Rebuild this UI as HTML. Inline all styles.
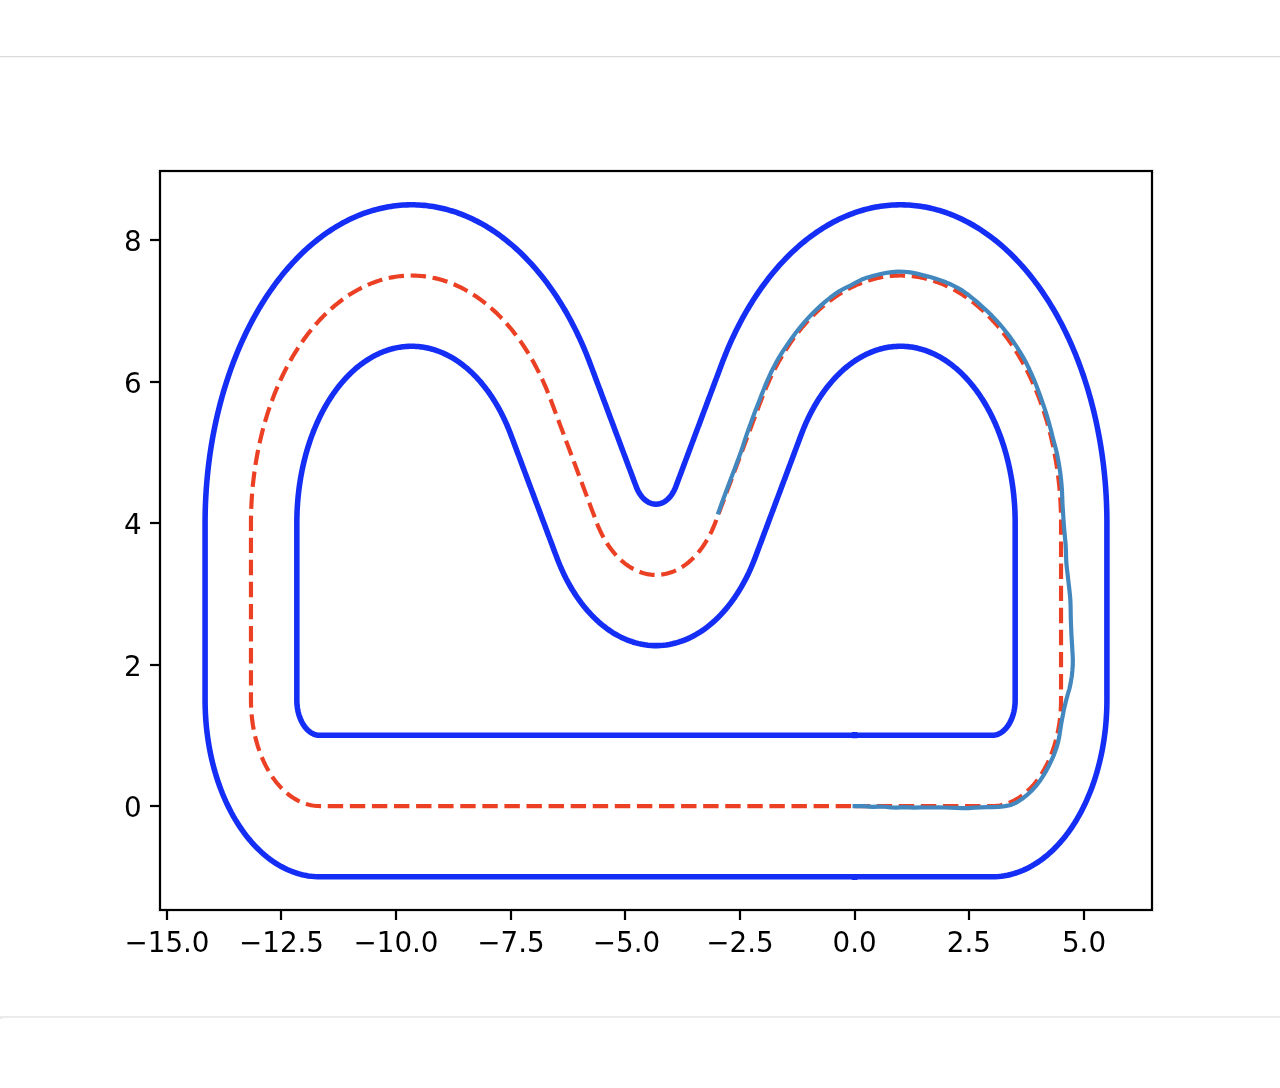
<!DOCTYPE html>
<html lang="en"><head><meta charset="utf-8"><title>Track plot</title>
<style>
html,body{margin:0;padding:0;background:#fff;}
body{width:1280px;height:1088px;position:relative;overflow:hidden;font-family:"DejaVu Sans","Liberation Sans",sans-serif;}
.topline{position:absolute;left:0;top:56px;width:1280px;height:1px;background:#dadada;}
.topline2{position:absolute;left:0;top:57px;width:1280px;height:1px;background:#f6f6f6;}
.botline{position:absolute;left:0;top:1016px;width:1280px;height:2px;background:#ebebeb;}
.botblob{position:absolute;left:0;top:1018px;width:3px;height:1px;background:#ebebeb;}
svg.fig{position:absolute;left:0;top:56px;width:1280px;height:960px;overflow:visible;}
</style></head><body>
<div class="topline"></div><div class="topline2"></div>
<svg class="fig" width="1280" height="960" viewBox="0 0 1280 960">
<g stroke="#000" stroke-width="2.222" fill="none" stroke-linecap="butt">
<path d="M167 854V864"/>
<path d="M281 854V864"/>
<path d="M396 854V864"/>
<path d="M511 854V864"/>
<path d="M625 854V864"/>
<path d="M740 854V864"/>
<path d="M855 854V864"/>
<path d="M969 854V864"/>
<path d="M1084 854V864"/>
<path d="M160 750H150"/>
<path d="M160 609H150"/>
<path d="M160 467H150"/>
<path d="M160 326H150"/>
<path d="M160 184H150"/>
</g>
<g font-family="'DejaVu Sans', 'Liberation Sans', sans-serif" font-size="27.78" fill="#000">
<text x="167" y="895.5" text-anchor="middle">−15.0</text>
<text x="281.5" y="895.5" text-anchor="middle">−12.5</text>
<text x="396" y="895.5" text-anchor="middle">−10.0</text>
<text x="511" y="895.5" text-anchor="middle">−7.5</text>
<text x="626.5" y="895.5" text-anchor="middle">−5.0</text>
<text x="740" y="895.5" text-anchor="middle">−2.5</text>
<text x="854.6" y="895.5" text-anchor="middle">0.0</text>
<text x="968.9" y="895.5" text-anchor="middle">2.5</text>
<text x="1084" y="895.5" text-anchor="middle">5.0</text>
<text x="141.75" y="760.5" text-anchor="end">0</text>
<text x="141.75" y="619.5" text-anchor="end">2</text>
<text x="141.75" y="477.5" text-anchor="end">4</text>
<text x="141.75" y="336.5" text-anchor="end">6</text>
<text x="141.75" y="194.5" text-anchor="end">8</text>
</g>
<svg x="160" y="115" width="992" height="739" viewBox="160 115 992 739" overflow="hidden">
<path d="M854.62 750.06L856.46 750.06L858.31 750.06L860.15 750.06L861.99 750.06L863.83 750.06L865.67 750.06L867.51 750.06L869.35 750.06L871.19 750.06L873.03 750.06L874.87 750.06L876.71 750.06L878.56 750.06L880.40 750.06L882.24 750.06L884.08 750.06L885.92 750.06L887.76 750.06L889.60 750.06L891.44 750.06L893.28 750.06L895.12 750.06L896.97 750.06L898.81 750.06L900.65 750.06L902.49 750.06L904.33 750.06L906.17 750.06L908.01 750.06L909.85 750.06L911.69 750.06L913.53 750.06L915.37 750.06L917.22 750.06L919.06 750.06L920.90 750.06L922.74 750.06L924.58 750.06L926.42 750.06L928.26 750.06L930.10 750.06L931.94 750.06L933.78 750.06L935.62 750.06L937.47 750.06L939.31 750.06L941.15 750.06L942.99 750.06L944.83 750.06L946.67 750.06L948.51 750.06L950.35 750.06L952.19 750.06L954.03 750.06L955.88 750.06L957.72 750.06L959.56 750.06L961.40 750.06L963.24 750.06L965.08 750.06L966.92 750.06L968.76 750.06L970.60 750.06L972.44 750.06L974.28 750.06L976.13 750.06L977.97 750.06L979.81 750.06L981.65 750.06L983.49 750.06L985.33 750.06L987.17 750.06L989.01 750.06L990.85 750.06L992.23 750.06L994.08 750.02L995.93 749.91L997.77 749.72L999.61 749.45L1001.44 749.11L1003.27 748.69L1005.09 748.19L1006.90 747.62L1008.70 746.98L1010.49 746.26L1012.26 745.47L1014.02 744.60L1015.77 743.66L1017.49 742.65L1019.20 741.57L1020.89 740.42L1022.56 739.20L1024.21 737.91L1025.83 736.55L1027.43 735.13L1029.01 733.64L1030.56 732.08L1032.08 730.46L1033.57 728.78L1035.03 727.04L1036.46 725.24L1037.86 723.38L1039.23 721.46L1040.56 719.49L1041.86 717.46L1043.12 715.38L1044.34 713.25L1045.53 711.06L1046.68 708.83L1047.79 706.56L1048.86 704.23L1049.89 701.87L1050.88 699.46L1051.82 697.01L1052.72 694.52L1053.58 692.00L1054.40 689.44L1055.17 686.85L1055.89 684.23L1056.57 681.58L1057.20 678.91L1057.78 676.20L1058.32 673.48L1058.81 670.73L1059.25 667.97L1059.65 665.18L1059.99 662.38L1060.29 659.57L1060.54 656.75L1060.74 653.91L1060.88 651.08L1060.98 648.23L1061.03 645.38L1061.04 643.25L1061.04 640.41L1061.04 637.57L1061.04 634.73L1061.04 631.88L1061.04 629.04L1061.04 626.20L1061.04 623.36L1061.04 620.52L1061.04 617.68L1061.04 614.84L1061.04 612.00L1061.04 609.16L1061.04 606.32L1061.04 603.48L1061.04 600.64L1061.04 597.79L1061.04 594.95L1061.04 592.11L1061.04 589.27L1061.04 586.43L1061.04 583.59L1061.04 580.75L1061.04 577.91L1061.04 575.07L1061.04 572.23L1061.04 569.39L1061.04 566.55L1061.04 563.70L1061.04 560.86L1061.04 558.02L1061.04 555.18L1061.04 552.34L1061.04 549.50L1061.04 546.66L1061.04 543.82L1061.04 540.98L1061.04 538.14L1061.04 535.30L1061.04 532.46L1061.04 529.61L1061.04 526.77L1061.04 523.93L1061.04 521.09L1061.04 518.25L1061.04 515.41L1061.04 512.57L1061.04 509.73L1061.04 506.89L1061.04 504.05L1061.04 501.21L1061.04 498.36L1061.04 495.52L1061.04 492.68L1061.04 489.84L1061.04 487.00L1061.04 484.16L1061.04 481.32L1061.04 478.48L1061.04 475.64L1061.04 472.80L1061.04 469.96L1061.04 467.12L1061.03 464.99L1061.01 462.16L1060.96 459.32L1060.89 456.49L1060.80 453.66L1060.69 450.83L1060.56 448.01L1060.41 445.19L1060.23 442.36L1060.04 439.55L1059.83 436.73L1059.59 433.92L1059.33 431.12L1059.06 428.32L1058.76 425.52L1058.44 422.73L1058.10 419.95L1057.74 417.17L1057.36 414.39L1056.96 411.63L1056.53 408.87L1056.09 406.12L1055.63 403.38L1055.14 400.65L1054.64 397.92L1054.12 395.21L1053.57 392.50L1053.01 389.80L1052.43 387.12L1051.82 384.44L1051.20 381.77L1050.56 379.12L1049.89 376.48L1049.21 373.85L1048.51 371.23L1047.79 368.62L1047.05 366.03L1046.29 363.45L1045.51 360.88L1044.71 358.33L1043.89 355.79L1043.06 353.27L1042.20 350.76L1041.33 348.27L1040.44 345.79L1039.53 343.33L1038.60 340.88L1037.66 338.45L1036.69 336.04L1035.71 333.64L1034.71 331.27L1033.69 328.91L1032.66 326.56L1031.61 324.24L1030.54 321.94L1029.45 319.65L1028.35 317.38L1027.23 315.14L1026.09 312.91L1024.94 310.70L1023.77 308.52L1022.59 306.35L1021.39 304.21L1020.17 302.09L1018.94 299.98L1017.69 297.91L1016.43 295.85L1015.15 293.81L1013.85 291.80L1012.55 289.81L1011.22 287.85L1009.88 285.90L1008.53 283.98L1007.17 282.09L1005.79 280.22L1004.39 278.37L1002.98 276.55L1001.56 274.76L1000.13 272.98L998.68 271.24L997.22 269.52L995.75 267.82L994.26 266.16L992.77 264.51L991.26 262.90L989.74 261.31L988.20 259.75L986.66 258.21L985.10 256.71L983.53 255.23L981.96 253.78L980.37 252.35L978.77 250.96L977.16 249.59L975.54 248.25L973.91 246.94L972.27 245.66L970.62 244.41L968.97 243.18L967.30 241.99L965.63 240.83L963.94 239.69L962.25 238.59L960.55 237.51L958.84 236.47L957.13 235.45L955.40 234.47L953.67 233.51L951.94 232.59L950.19 231.70L948.44 230.84L946.69 230.01L944.92 229.21L943.15 228.44L941.38 227.70L939.60 226.99L937.82 226.32L936.03 225.68L934.23 225.07L932.43 224.49L930.63 223.94L928.82 223.42L927.01 222.94L925.20 222.49L923.38 222.07L921.56 221.68L919.74 221.32L917.91 221.00L916.09 220.71L914.26 220.45L912.43 220.22L910.59 220.03L908.76 219.87L906.92 219.74L905.09 219.64L903.25 219.57L901.41 219.54L899.57 219.54L897.74 219.57L895.90 219.64L894.06 219.74L892.23 219.87L890.39 220.03L888.56 220.22L886.73 220.45L884.90 220.71L883.07 221.00L881.25 221.32L879.42 221.68L877.60 222.07L875.79 222.49L873.97 222.94L872.16 223.42L870.36 223.94L868.55 224.49L866.75 225.07L864.96 225.68L863.17 226.32L861.39 226.99L859.61 227.70L857.83 228.44L856.06 229.21L854.30 230.01L852.55 230.84L850.79 231.70L849.05 232.59L847.31 233.51L845.58 234.47L843.86 235.45L842.15 236.47L840.44 237.51L838.74 238.59L837.05 239.69L835.36 240.83L833.69 241.99L832.02 243.18L830.36 244.41L828.71 245.66L827.08 246.94L825.45 248.25L823.83 249.59L822.22 250.96L820.62 252.35L819.03 253.78L817.45 255.23L815.89 256.71L814.33 258.21L812.78 259.75L811.25 261.31L809.73 262.90L808.22 264.51L806.72 266.16L805.24 267.82L803.76 269.52L802.30 271.24L800.86 272.98L799.42 274.76L798.00 276.55L796.59 278.37L795.20 280.22L793.82 282.09L792.45 283.98L791.10 285.90L789.76 287.85L788.44 289.81L787.13 291.80L785.84 293.81L784.56 295.85L783.30 297.91L782.05 299.98L780.82 302.09L779.60 304.21L778.40 306.35L777.21 308.52L776.04 310.70L774.89 312.91L773.76 315.14L772.64 317.38L771.53 319.65L770.45 321.94L769.38 324.24L768.33 326.56L767.29 328.91L766.28 331.27L765.28 333.64L764.29 336.04L763.33 338.45L762.38 340.88L761.46 343.33L760.77 345.17L759.84 347.64L758.92 350.10L758.00 352.56L757.08 355.02L756.16 357.49L755.23 359.95L754.31 362.41L753.39 364.88L752.47 367.34L751.55 369.80L750.62 372.26L749.70 374.73L748.78 377.19L747.86 379.65L746.94 382.11L746.01 384.58L745.09 387.04L744.17 389.50L743.25 391.96L742.33 394.43L741.40 396.89L740.48 399.35L739.56 401.82L738.64 404.28L737.72 406.74L736.79 409.20L735.87 411.67L734.95 414.13L734.03 416.59L733.11 419.05L732.18 421.52L731.26 423.98L730.34 426.44L729.42 428.91L728.50 431.37L727.57 433.83L726.65 436.29L725.73 438.76L724.81 441.22L723.89 443.68L722.96 446.14L722.04 448.61L721.12 451.07L720.20 453.53L719.28 456.00L718.35 458.46L717.43 460.92L716.51 463.38L715.59 465.85L714.88 467.68L713.91 470.09L712.90 472.46L711.84 474.79L710.74 477.07L709.61 479.31L708.44 481.49L707.22 483.63L705.98 485.72L704.69 487.76L703.37 489.74L702.02 491.67L700.64 493.54L699.22 495.35L697.77 497.11L696.29 498.80L694.79 500.43L693.25 502.00L691.69 503.51L690.10 504.95L688.49 506.32L686.86 507.63L685.20 508.87L683.52 510.04L681.82 511.14L680.11 512.17L678.38 513.13L676.63 514.02L674.86 514.83L673.08 515.58L671.29 516.24L669.49 516.84L667.68 517.36L665.86 517.80L664.04 518.17L662.21 518.47L660.37 518.68L658.53 518.83L656.69 518.89L654.85 518.88L653.01 518.80L651.17 518.64L649.33 518.40L647.50 518.09L645.68 517.70L643.86 517.23L642.06 516.70L640.26 516.08L638.47 515.40L636.70 514.64L634.94 513.80L633.19 512.90L631.46 511.92L629.75 510.87L628.06 509.75L626.38 508.57L624.73 507.31L623.10 505.99L621.50 504.59L619.92 503.14L618.36 501.62L616.83 500.03L615.33 498.38L613.86 496.67L612.42 494.91L611.01 493.08L609.64 491.19L608.29 489.25L606.98 487.25L605.71 485.20L604.47 483.10L603.27 480.95L602.10 478.75L600.98 476.50L599.89 474.21L598.85 471.87L597.84 469.49L596.88 467.07L596.18 465.23L595.26 462.77L594.34 460.31L593.42 457.84L592.49 455.38L591.57 452.92L590.65 450.45L589.73 447.99L588.81 445.53L587.88 443.07L586.96 440.60L586.04 438.14L585.12 435.68L584.20 433.22L583.27 430.75L582.35 428.29L581.43 425.83L580.51 423.36L579.59 420.90L578.66 418.44L577.74 415.98L576.82 413.51L575.90 411.05L574.98 408.59L574.05 406.13L573.13 403.66L572.21 401.20L571.29 398.74L570.37 396.27L569.44 393.81L568.52 391.35L567.60 388.89L566.68 386.42L565.76 383.96L564.83 381.50L563.91 379.04L562.99 376.57L562.07 374.11L561.15 371.65L560.22 369.18L559.30 366.72L558.38 364.26L557.46 361.80L556.54 359.33L555.61 356.87L554.69 354.41L553.77 351.95L552.85 349.48L551.93 347.02L551.00 344.56L550.31 342.71L549.38 340.27L548.43 337.85L547.46 335.44L546.48 333.05L545.47 330.67L544.45 328.32L543.41 325.98L542.36 323.66L541.28 321.36L540.19 319.08L539.09 316.82L537.96 314.58L536.82 312.36L535.66 310.16L534.49 307.98L533.30 305.82L532.10 303.68L530.88 301.56L529.64 299.46L528.39 297.39L527.12 295.34L525.84 293.31L524.54 291.30L523.23 289.32L521.90 287.36L520.56 285.42L519.21 283.51L517.84 281.62L516.45 279.76L515.05 277.92L513.64 276.10L512.22 274.31L510.78 272.55L509.33 270.81L507.87 269.09L506.39 267.40L504.90 265.74L503.40 264.11L501.89 262.50L500.37 260.92L498.83 259.36L497.28 257.84L495.72 256.34L494.15 254.86L492.57 253.42L490.98 252.00L489.38 250.61L487.77 249.25L486.15 247.92L484.52 246.62L482.87 245.34L481.22 244.10L479.56 242.88L477.90 241.70L476.22 240.54L474.53 239.41L472.84 238.31L471.14 237.25L469.43 236.21L467.71 235.20L465.98 234.23L464.25 233.28L462.51 232.36L460.77 231.48L459.02 230.63L457.26 229.80L455.49 229.01L453.72 228.25L451.95 227.52L450.17 226.82L448.38 226.16L446.59 225.52L444.80 224.92L443.00 224.35L441.19 223.81L439.38 223.30L437.57 222.82L435.76 222.38L433.94 221.97L432.12 221.59L430.30 221.24L428.47 220.92L426.64 220.64L424.81 220.39L422.98 220.17L421.15 219.98L419.31 219.83L417.48 219.71L415.64 219.62L413.80 219.56L411.97 219.54L410.13 219.55L408.29 219.59L406.45 219.66L404.62 219.76L402.78 219.90L400.95 220.07L399.12 220.28L397.29 220.51L395.46 220.78L393.63 221.08L391.80 221.41L389.98 221.77L388.16 222.17L386.35 222.60L384.53 223.06L382.72 223.55L380.92 224.07L379.12 224.63L377.32 225.22L375.53 225.83L373.74 226.49L371.95 227.17L370.18 227.88L368.40 228.63L366.64 229.40L364.88 230.21L363.12 231.05L361.37 231.92L359.63 232.82L357.89 233.75L356.17 234.71L354.44 235.70L352.73 236.73L351.02 237.78L349.33 238.86L347.64 239.97L345.96 241.11L344.28 242.29L342.62 243.49L340.96 244.72L339.32 245.98L337.68 247.27L336.05 248.58L334.44 249.93L332.83 251.30L331.23 252.71L329.65 254.14L328.07 255.60L326.51 257.08L324.96 258.60L323.41 260.14L321.88 261.71L320.36 263.30L318.86 264.92L317.36 266.57L315.88 268.25L314.41 269.95L312.95 271.67L311.51 273.42L310.08 275.20L308.66 277.00L307.26 278.83L305.87 280.68L304.49 282.56L303.13 284.46L301.78 286.39L300.45 288.33L299.13 290.31L297.82 292.30L296.53 294.32L295.26 296.36L294.00 298.42L292.75 300.51L291.52 302.61L290.31 304.74L289.11 306.89L287.93 309.06L286.77 311.25L285.62 313.47L284.49 315.70L283.37 317.95L282.27 320.22L281.19 322.51L280.13 324.82L279.08 327.15L278.05 329.49L277.04 331.86L276.04 334.24L275.06 336.64L274.11 339.06L273.16 341.49L272.24 343.94L271.34 346.41L270.45 348.89L269.58 351.39L268.73 353.90L267.90 356.42L267.09 358.97L266.30 361.52L265.52 364.09L264.77 366.68L264.03 369.27L263.31 371.88L262.62 374.50L261.94 377.14L261.28 379.78L260.64 382.44L260.02 385.11L259.43 387.79L258.85 390.47L258.29 393.17L257.75 395.88L257.23 398.60L256.73 401.33L256.25 404.06L255.80 406.81L255.36 409.56L254.94 412.32L254.55 415.09L254.17 417.86L253.82 420.64L253.48 423.43L253.17 426.22L252.87 429.02L252.60 431.82L252.35 434.62L252.12 437.44L251.91 440.25L251.72 443.07L251.55 445.89L251.41 448.72L251.28 451.54L251.17 454.37L251.09 457.20L251.03 460.03L250.98 462.87L250.96 465.70L250.96 467.83L250.96 470.67L250.96 473.51L250.96 476.35L250.96 479.19L250.96 482.03L250.96 484.87L250.96 487.71L250.96 490.55L250.96 493.39L250.96 496.23L250.96 499.08L250.96 501.92L250.96 504.76L250.96 507.60L250.96 510.44L250.96 513.28L250.96 516.12L250.96 518.96L250.96 521.80L250.96 524.64L250.96 527.48L250.96 530.32L250.96 533.17L250.96 536.01L250.96 538.85L250.96 541.69L250.96 544.53L250.96 547.37L250.96 550.21L250.96 553.05L250.96 555.89L250.96 558.73L250.96 561.57L250.96 564.41L250.96 567.26L250.96 570.10L250.96 572.94L250.96 575.78L250.96 578.62L250.96 581.46L250.96 584.30L250.96 587.14L250.96 589.98L250.96 592.82L250.96 595.66L250.96 598.50L250.96 601.35L250.96 604.19L250.96 607.03L250.96 609.87L250.96 612.71L250.96 615.55L250.96 618.39L250.96 621.23L250.96 624.07L250.96 626.91L250.96 629.75L250.96 632.59L250.96 635.44L250.96 638.28L250.96 641.12L250.96 643.96L250.97 646.09L251.04 648.94L251.15 651.79L251.31 654.62L251.52 657.45L251.78 660.27L252.09 663.08L252.45 665.88L252.85 668.66L253.31 671.42L253.81 674.16L254.36 676.88L254.95 679.58L255.60 682.25L256.29 684.89L257.02 687.50L257.80 690.09L258.63 692.64L259.50 695.15L260.41 697.63L261.37 700.06L262.37 702.46L263.40 704.82L264.48 707.13L265.60 709.40L266.76 711.61L267.96 713.78L269.19 715.90L270.46 717.97L271.77 719.99L273.11 721.95L274.49 723.85L275.89 725.70L277.33 727.48L278.80 729.21L280.30 730.87L281.83 732.48L283.38 734.02L284.96 735.49L286.57 736.90L288.20 738.24L289.85 739.51L291.53 740.72L293.22 741.85L294.94 742.91L296.67 743.91L298.42 744.83L300.18 745.67L301.96 746.45L303.75 747.15L305.55 747.77L307.36 748.33L309.19 748.80L311.01 749.20L312.85 749.53L314.69 749.77L316.53 749.95L318.38 750.04L319.77 750.06L321.60 750.06L323.44 750.06L325.28 750.06L327.11 750.06L328.95 750.06L330.78 750.06L332.62 750.06L334.46 750.06L336.29 750.06L338.13 750.06L339.97 750.06L341.80 750.06L343.64 750.06L345.48 750.06L347.31 750.06L349.15 750.06L350.99 750.06L352.82 750.06L354.66 750.06L356.49 750.06L358.33 750.06L360.17 750.06L362.00 750.06L363.84 750.06L365.68 750.06L367.51 750.06L369.35 750.06L371.19 750.06L373.02 750.06L374.86 750.06L376.70 750.06L378.53 750.06L380.37 750.06L382.20 750.06L384.04 750.06L385.88 750.06L387.71 750.06L389.55 750.06L391.39 750.06L393.22 750.06L395.06 750.06L396.90 750.06L398.73 750.06L400.57 750.06L402.41 750.06L404.24 750.06L406.08 750.06L407.91 750.06L409.75 750.06L411.59 750.06L413.42 750.06L415.26 750.06L417.10 750.06L418.93 750.06L420.77 750.06L422.61 750.06L424.44 750.06L426.28 750.06L428.11 750.06L429.95 750.06L431.79 750.06L433.62 750.06L435.46 750.06L437.30 750.06L439.13 750.06L440.97 750.06L442.81 750.06L444.64 750.06L446.48 750.06L448.32 750.06L450.15 750.06L451.99 750.06L453.82 750.06L455.66 750.06L457.50 750.06L459.33 750.06L461.17 750.06L463.01 750.06L464.84 750.06L466.68 750.06L468.52 750.06L470.35 750.06L472.19 750.06L474.03 750.06L475.86 750.06L477.70 750.06L479.53 750.06L481.37 750.06L483.21 750.06L485.04 750.06L486.88 750.06L488.72 750.06L490.55 750.06L492.39 750.06L494.23 750.06L496.06 750.06L497.90 750.06L499.74 750.06L501.57 750.06L503.41 750.06L505.24 750.06L507.08 750.06L508.92 750.06L510.75 750.06L512.59 750.06L514.43 750.06L516.26 750.06L518.10 750.06L519.94 750.06L521.77 750.06L523.61 750.06L525.45 750.06L527.28 750.06L529.12 750.06L530.95 750.06L532.79 750.06L534.63 750.06L536.46 750.06L538.30 750.06L540.14 750.06L541.97 750.06L543.81 750.06L545.65 750.06L547.48 750.06L549.32 750.06L551.16 750.06L552.99 750.06L554.83 750.06L556.66 750.06L558.50 750.06L560.34 750.06L562.17 750.06L564.01 750.06L565.85 750.06L567.68 750.06L569.52 750.06L571.36 750.06L573.19 750.06L575.03 750.06L576.86 750.06L578.70 750.06L580.54 750.06L582.37 750.06L584.21 750.06L586.05 750.06L587.88 750.06L589.72 750.06L591.56 750.06L593.39 750.06L595.23 750.06L597.07 750.06L598.90 750.06L600.74 750.06L602.57 750.06L604.41 750.06L606.25 750.06L608.08 750.06L609.92 750.06L611.76 750.06L613.59 750.06L615.43 750.06L617.27 750.06L619.10 750.06L620.94 750.06L622.78 750.06L624.61 750.06L626.45 750.06L628.28 750.06L630.12 750.06L631.96 750.06L633.79 750.06L635.63 750.06L637.47 750.06L639.30 750.06L641.14 750.06L642.98 750.06L644.81 750.06L646.65 750.06L648.49 750.06L650.32 750.06L652.16 750.06L653.99 750.06L655.83 750.06L657.67 750.06L659.50 750.06L661.34 750.06L663.18 750.06L665.01 750.06L666.85 750.06L668.69 750.06L670.52 750.06L672.36 750.06L674.20 750.06L676.03 750.06L677.87 750.06L679.70 750.06L681.54 750.06L683.38 750.06L685.21 750.06L687.05 750.06L688.89 750.06L690.72 750.06L692.56 750.06L694.40 750.06L696.23 750.06L698.07 750.06L699.91 750.06L701.74 750.06L703.58 750.06L705.41 750.06L707.25 750.06L709.09 750.06L710.92 750.06L712.76 750.06L714.60 750.06L716.43 750.06L718.27 750.06L720.11 750.06L721.94 750.06L723.78 750.06L725.61 750.06L727.45 750.06L729.29 750.06L731.12 750.06L732.96 750.06L734.80 750.06L736.63 750.06L738.47 750.06L740.31 750.06L742.14 750.06L743.98 750.06L745.82 750.06L747.65 750.06L749.49 750.06L751.32 750.06L753.16 750.06L755.00 750.06L756.83 750.06L758.67 750.06L760.51 750.06L762.34 750.06L764.18 750.06L766.02 750.06L767.85 750.06L769.69 750.06L771.53 750.06L773.36 750.06L775.20 750.06L777.03 750.06L778.87 750.06L780.71 750.06L782.54 750.06L784.38 750.06L786.22 750.06L788.05 750.06L789.89 750.06L791.73 750.06L793.56 750.06L795.40 750.06L797.24 750.06L799.07 750.06L800.91 750.06L802.74 750.06L804.58 750.06L806.42 750.06L808.25 750.06L810.09 750.06L811.93 750.06L813.76 750.06L815.60 750.06L817.44 750.06L819.27 750.06L821.11 750.06L822.95 750.06L824.78 750.06L826.62 750.06L828.45 750.06L830.29 750.06L832.13 750.06L833.96 750.06L835.80 750.06L837.64 750.06L839.47 750.06L841.31 750.06L843.15 750.06L844.98 750.06L846.82 750.06L848.66 750.06L850.49 750.06L852.33 750.06L854.16 750.06L854.62 750.06" fill="none" stroke="#eb4024" stroke-width="4.167" stroke-dasharray="15.417 6.667" stroke-linejoin="round" stroke-linecap="butt"/>
<path d="M854.62 679.33L856.46 679.33L858.31 679.33L860.15 679.33L861.99 679.33L863.83 679.33L865.67 679.33L867.51 679.33L869.35 679.33L871.19 679.33L873.03 679.33L874.87 679.33L876.71 679.33L878.56 679.33L880.40 679.33L882.24 679.33L884.08 679.33L885.92 679.33L887.76 679.33L889.60 679.33L891.44 679.33L893.28 679.33L895.12 679.33L896.97 679.33L898.81 679.33L900.65 679.33L902.49 679.33L904.33 679.33L906.17 679.33L908.01 679.33L909.85 679.33L911.69 679.33L913.53 679.33L915.37 679.33L917.22 679.33L919.06 679.33L920.90 679.33L922.74 679.33L924.58 679.33L926.42 679.33L928.26 679.33L930.10 679.33L931.94 679.33L933.78 679.33L935.62 679.33L937.47 679.33L939.31 679.33L941.15 679.33L942.99 679.33L944.83 679.33L946.67 679.33L948.51 679.33L950.35 679.33L952.19 679.33L954.03 679.33L955.88 679.33L957.72 679.33L959.56 679.33L961.40 679.33L963.24 679.33L965.08 679.33L966.92 679.33L968.76 679.33L970.60 679.33L972.44 679.33L974.28 679.33L976.13 679.33L977.97 679.33L979.81 679.33L981.65 679.33L983.49 679.33L985.33 679.33L987.17 679.33L989.01 679.33L990.85 679.33L992.23 679.33L992.85 679.31L993.46 679.28L994.08 679.21L994.69 679.12L995.30 679.01L995.91 678.87L996.52 678.70L997.12 678.51L997.72 678.30L998.32 678.06L998.91 677.79L999.50 677.51L1000.08 677.19L1000.65 676.86L1001.22 676.50L1001.79 676.11L1002.34 675.71L1002.89 675.28L1003.43 674.82L1003.97 674.35L1004.49 673.85L1005.01 673.33L1005.51 672.79L1006.01 672.23L1006.50 671.65L1006.98 671.05L1007.44 670.43L1007.90 669.79L1008.34 669.13L1008.77 668.46L1009.20 667.76L1009.60 667.05L1010.00 666.33L1010.38 665.58L1010.75 664.82L1011.11 664.05L1011.45 663.26L1011.78 662.46L1012.10 661.64L1012.40 660.81L1012.68 659.97L1012.95 659.12L1013.21 658.26L1013.45 657.38L1013.68 656.50L1013.89 655.61L1014.08 654.71L1014.26 653.80L1014.43 652.88L1014.57 651.96L1014.71 651.03L1014.82 650.10L1014.92 649.16L1015.00 648.22L1015.07 647.28L1015.12 646.33L1015.15 645.38L1015.17 644.43L1015.17 643.25L1015.17 640.41L1015.17 637.57L1015.17 634.73L1015.17 631.88L1015.17 629.04L1015.17 626.20L1015.17 623.36L1015.17 620.52L1015.17 617.68L1015.17 614.84L1015.17 612.00L1015.17 609.16L1015.17 606.32L1015.17 603.48L1015.17 600.64L1015.17 597.79L1015.17 594.95L1015.17 592.11L1015.17 589.27L1015.17 586.43L1015.17 583.59L1015.17 580.75L1015.17 577.91L1015.17 575.07L1015.17 572.23L1015.17 569.39L1015.17 566.55L1015.17 563.70L1015.17 560.86L1015.17 558.02L1015.17 555.18L1015.17 552.34L1015.17 549.50L1015.17 546.66L1015.17 543.82L1015.17 540.98L1015.17 538.14L1015.17 535.30L1015.17 532.46L1015.17 529.61L1015.17 526.77L1015.17 523.93L1015.17 521.09L1015.17 518.25L1015.17 515.41L1015.17 512.57L1015.17 509.73L1015.17 506.89L1015.17 504.05L1015.17 501.21L1015.17 498.36L1015.17 495.52L1015.17 492.68L1015.17 489.84L1015.17 487.00L1015.17 484.16L1015.17 481.32L1015.17 478.48L1015.17 475.64L1015.17 472.80L1015.17 469.96L1015.17 467.12L1015.16 465.60L1015.15 463.57L1015.11 461.55L1015.06 459.53L1015.00 457.51L1014.92 455.49L1014.83 453.47L1014.72 451.45L1014.59 449.44L1014.46 447.42L1014.30 445.41L1014.13 443.41L1013.95 441.40L1013.75 439.40L1013.54 437.40L1013.31 435.41L1013.07 433.42L1012.81 431.44L1012.54 429.46L1012.25 427.48L1011.95 425.51L1011.63 423.55L1011.30 421.59L1010.96 419.64L1010.60 417.69L1010.23 415.75L1009.84 413.82L1009.43 411.89L1009.02 409.97L1008.59 408.06L1008.14 406.16L1007.68 404.26L1007.21 402.37L1006.72 400.49L1006.22 398.62L1005.70 396.76L1005.17 394.91L1004.63 393.07L1004.08 391.23L1003.51 389.41L1002.92 387.60L1002.33 385.80L1001.72 384.00L1001.09 382.22L1000.45 380.45L999.81 378.69L999.14 376.95L998.47 375.21L997.78 373.49L997.08 371.78L996.36 370.08L995.64 368.39L994.90 366.72L994.15 365.06L993.38 363.42L992.61 361.78L991.82 360.16L991.02 358.56L990.21 356.97L989.39 355.39L988.55 353.83L987.70 352.29L986.85 350.75L985.98 349.24L985.10 347.74L984.20 346.25L983.30 344.78L982.39 343.33L981.47 341.89L980.53 340.47L979.59 339.07L978.63 337.68L977.66 336.31L976.69 334.95L975.70 333.62L974.71 332.30L973.70 331.00L972.69 329.72L971.66 328.45L970.63 327.20L969.59 325.97L968.53 324.76L967.47 323.57L966.40 322.40L965.32 321.25L964.24 320.11L963.14 319.00L962.04 317.90L960.93 316.82L959.81 315.77L958.68 314.73L957.55 313.71L956.40 312.72L955.26 311.74L954.10 310.78L952.93 309.85L951.76 308.93L950.59 308.04L949.40 307.16L948.21 306.31L947.02 305.48L945.81 304.67L944.61 303.88L943.39 303.11L942.17 302.37L940.95 301.64L939.71 300.94L938.48 300.26L937.24 299.60L935.99 298.96L934.74 298.34L933.49 297.75L932.23 297.18L930.97 296.63L929.70 296.10L928.43 295.60L927.15 295.12L925.87 294.66L924.59 294.22L923.31 293.81L922.02 293.42L920.73 293.05L919.44 292.70L918.14 292.38L916.84 292.08L915.54 291.80L914.24 291.55L912.94 291.32L911.63 291.11L910.32 290.92L909.02 290.76L907.71 290.62L906.40 290.51L905.09 290.42L903.77 290.35L902.46 290.30L901.15 290.28L899.84 290.28L898.53 290.30L897.21 290.35L895.90 290.42L894.59 290.51L893.28 290.62L891.97 290.76L890.66 290.92L889.36 291.11L888.05 291.32L886.75 291.55L885.44 291.80L884.14 292.08L882.85 292.38L881.55 292.70L880.26 293.05L878.97 293.42L877.68 293.81L876.39 294.22L875.11 294.66L873.83 295.12L872.56 295.60L871.29 296.10L870.02 296.63L868.76 297.18L867.50 297.75L866.24 298.34L864.99 298.96L863.75 299.60L862.51 300.26L861.27 300.94L860.04 301.64L858.82 302.37L857.60 303.11L856.38 303.88L855.17 304.67L853.97 305.48L852.77 306.31L851.58 307.16L850.40 308.04L849.22 308.93L848.05 309.85L846.89 310.78L845.73 311.74L844.58 312.72L843.44 313.71L842.31 314.73L841.18 315.77L840.06 316.82L838.95 317.90L837.84 319.00L836.75 320.11L835.66 321.25L834.58 322.40L833.51 323.57L832.45 324.76L831.40 325.97L830.36 327.20L829.32 328.45L828.30 329.72L827.29 331.00L826.28 332.30L825.28 333.62L824.30 334.95L823.32 336.31L822.36 337.68L821.40 339.07L820.46 340.47L819.52 341.89L818.60 343.33L817.68 344.78L816.78 346.25L815.89 347.74L815.01 349.24L814.14 350.75L813.28 352.29L812.44 353.83L811.60 355.39L810.78 356.97L809.97 358.56L809.17 360.16L808.38 361.78L807.60 363.42L806.84 365.06L806.09 366.72L805.35 368.39L804.62 370.08L803.91 371.78L803.21 373.49L802.52 375.21L801.84 376.95L801.18 378.69L800.49 380.54L799.57 383.00L798.65 385.47L797.72 387.93L796.80 390.39L795.88 392.86L794.96 395.32L794.04 397.78L793.11 400.24L792.19 402.71L791.27 405.17L790.35 407.63L789.43 410.09L788.50 412.56L787.58 415.02L786.66 417.48L785.74 419.95L784.82 422.41L783.89 424.87L782.97 427.33L782.05 429.80L781.13 432.26L780.21 434.72L779.28 437.18L778.36 439.65L777.44 442.11L776.52 444.57L775.60 447.03L774.67 449.50L773.75 451.96L772.83 454.42L771.91 456.89L770.99 459.35L770.06 461.81L769.14 464.27L768.22 466.74L767.30 469.20L766.38 471.66L765.45 474.12L764.53 476.59L763.61 479.05L762.69 481.51L761.77 483.98L760.84 486.44L759.92 488.90L759.00 491.36L758.08 493.83L757.16 496.29L756.23 498.75L755.31 501.21L754.14 504.27L752.52 508.29L750.83 512.24L749.07 516.12L747.24 519.92L745.35 523.65L743.39 527.29L741.37 530.86L739.29 534.34L737.16 537.74L734.96 541.04L732.70 544.25L730.40 547.37L728.03 550.39L725.62 553.32L723.16 556.14L720.64 558.86L718.09 561.48L715.48 563.98L712.84 566.39L710.15 568.68L707.43 570.85L704.67 572.92L701.87 574.87L699.04 576.71L696.18 578.42L693.29 580.02L690.38 581.50L687.44 582.86L684.47 584.10L681.49 585.21L678.49 586.20L675.47 587.07L672.44 587.81L669.40 588.42L666.34 588.91L663.28 589.28L660.22 589.52L657.15 589.63L654.08 589.61L651.01 589.47L647.95 589.20L644.89 588.80L641.84 588.28L638.80 587.64L635.77 586.86L632.76 585.97L629.76 584.94L626.78 583.80L623.83 582.53L620.89 581.14L617.98 579.63L615.10 578.01L612.25 576.26L609.43 574.39L606.64 572.41L603.89 570.32L601.17 568.11L598.50 565.80L595.86 563.37L593.27 560.83L590.72 558.19L588.22 555.44L585.77 552.60L583.37 549.65L581.02 546.60L578.73 543.46L576.49 540.22L574.30 536.89L572.18 533.48L570.12 529.98L568.11 526.39L566.17 522.72L564.30 518.98L562.49 515.15L560.74 511.26L559.07 507.29L557.46 503.26L556.46 500.60L555.54 498.14L554.61 495.67L553.69 493.21L552.77 490.75L551.85 488.29L550.93 485.82L550.00 483.36L549.08 480.90L548.16 478.43L547.24 475.97L546.32 473.51L545.39 471.05L544.47 468.58L543.55 466.12L542.63 463.66L541.71 461.20L540.78 458.73L539.86 456.27L538.94 453.81L538.02 451.34L537.10 448.88L536.17 446.42L535.25 443.96L534.33 441.49L533.41 439.03L532.49 436.57L531.56 434.11L530.64 431.64L529.72 429.18L528.80 426.72L527.88 424.25L526.95 421.79L526.03 419.33L525.11 416.87L524.19 414.40L523.27 411.94L522.34 409.48L521.42 407.02L520.50 404.55L519.58 402.09L518.66 399.63L517.73 397.17L516.81 394.70L515.89 392.24L514.97 389.78L514.05 387.31L513.12 384.85L512.20 382.39L511.28 379.93L510.65 378.26L509.99 376.51L509.31 374.78L508.62 373.06L507.91 371.35L507.20 369.66L506.47 367.98L505.72 366.31L504.97 364.65L504.20 363.01L503.42 361.38L502.63 359.76L501.83 358.16L501.02 356.57L500.19 355.00L499.35 353.44L498.50 351.90L497.64 350.37L496.77 348.86L495.89 347.36L494.99 345.88L494.09 344.42L493.17 342.97L492.25 341.53L491.31 340.12L490.36 338.72L489.40 337.33L488.43 335.97L487.46 334.62L486.47 333.29L485.47 331.97L484.46 330.68L483.44 329.40L482.42 328.14L481.38 326.89L480.34 325.67L479.28 324.47L478.22 323.28L477.15 322.11L476.07 320.96L474.98 319.83L473.88 318.72L472.78 317.63L471.66 316.56L470.54 315.51L469.41 314.47L468.27 313.46L467.13 312.47L465.98 311.50L464.82 310.55L463.66 309.62L462.48 308.71L461.30 307.82L460.12 306.95L458.93 306.10L457.73 305.28L456.52 304.47L455.31 303.69L454.10 302.92L452.88 302.18L451.65 301.46L450.42 300.77L449.18 300.09L447.94 299.44L446.69 298.80L445.44 298.19L444.19 297.61L442.93 297.04L441.66 296.50L440.39 295.98L439.12 295.48L437.85 295.00L436.57 294.55L435.28 294.12L434.00 293.71L432.71 293.32L431.42 292.96L430.13 292.62L428.83 292.30L427.53 292.01L426.23 291.74L424.93 291.49L423.62 291.26L422.32 291.06L421.01 290.88L419.70 290.73L418.39 290.59L417.08 290.48L415.77 290.40L414.46 290.33L413.15 290.29L411.83 290.27L410.52 290.28L409.21 290.31L407.90 290.36L406.59 290.44L405.28 290.53L403.97 290.66L402.66 290.80L401.35 290.97L400.04 291.16L398.74 291.37L397.43 291.61L396.13 291.87L394.83 292.15L393.53 292.46L392.24 292.79L390.95 293.14L389.66 293.51L388.37 293.91L387.09 294.33L385.81 294.77L384.53 295.24L383.25 295.72L381.98 296.23L380.72 296.77L379.46 297.32L378.20 297.90L376.94 298.50L375.70 299.12L374.45 299.76L373.21 300.43L371.98 301.11L370.75 301.82L369.52 302.55L368.31 303.30L367.09 304.08L365.89 304.87L364.68 305.69L363.49 306.52L362.30 307.38L361.12 308.26L359.94 309.16L358.77 310.08L357.61 311.02L356.46 311.98L355.31 312.96L354.17 313.97L353.04 314.99L351.91 316.03L350.79 317.09L349.68 318.17L348.58 319.27L347.49 320.39L346.40 321.53L345.33 322.69L344.26 323.87L343.20 325.07L342.15 326.28L341.11 327.51L340.08 328.76L339.06 330.03L338.05 331.32L337.04 332.63L336.05 333.95L335.07 335.29L334.09 336.65L333.13 338.02L332.18 339.42L331.23 340.82L330.30 342.25L329.38 343.69L328.47 345.15L327.57 346.62L326.68 348.11L325.80 349.61L324.94 351.14L324.08 352.67L323.24 354.22L322.41 355.79L321.59 357.37L320.78 358.96L319.98 360.57L319.20 362.19L318.42 363.83L317.66 365.48L316.92 367.14L316.18 368.81L315.46 370.50L314.75 372.21L314.05 373.92L313.36 375.65L312.69 377.38L312.03 379.13L311.38 380.89L310.75 382.67L310.13 384.45L309.52 386.25L308.93 388.05L308.35 389.87L307.78 391.69L307.23 393.53L306.69 395.37L306.17 397.23L305.65 399.09L305.16 400.96L304.67 402.84L304.20 404.73L303.75 406.63L303.31 408.54L302.88 410.45L302.46 412.37L302.06 414.30L301.68 416.24L301.31 418.18L300.95 420.13L300.61 422.08L300.29 424.04L299.97 426.01L299.68 427.98L299.39 429.95L299.12 431.93L298.87 433.92L298.63 435.91L298.41 437.90L298.20 439.90L298.00 441.90L297.82 443.91L297.66 445.92L297.51 447.93L297.37 449.94L297.25 451.96L297.15 453.97L297.06 455.99L296.98 458.01L296.92 460.03L296.88 462.06L296.85 464.08L296.83 466.10L296.83 467.83L296.83 470.67L296.83 473.51L296.83 476.35L296.83 479.19L296.83 482.03L296.83 484.87L296.83 487.71L296.83 490.55L296.83 493.39L296.83 496.23L296.83 499.08L296.83 501.92L296.83 504.76L296.83 507.60L296.83 510.44L296.83 513.28L296.83 516.12L296.83 518.96L296.83 521.80L296.83 524.64L296.83 527.48L296.83 530.32L296.83 533.17L296.83 536.01L296.83 538.85L296.83 541.69L296.83 544.53L296.83 547.37L296.83 550.21L296.83 553.05L296.83 555.89L296.83 558.73L296.83 561.57L296.83 564.41L296.83 567.26L296.83 570.10L296.83 572.94L296.83 575.78L296.83 578.62L296.83 581.46L296.83 584.30L296.83 587.14L296.83 589.98L296.83 592.82L296.83 595.66L296.83 598.50L296.83 601.35L296.83 604.19L296.83 607.03L296.83 609.87L296.83 612.71L296.83 615.55L296.83 618.39L296.83 621.23L296.83 624.07L296.83 626.91L296.83 629.75L296.83 632.59L296.83 635.44L296.83 638.28L296.83 641.12L296.83 643.96L296.84 644.67L296.86 645.62L296.89 646.57L296.95 647.51L297.02 648.46L297.10 649.40L297.21 650.33L297.33 651.26L297.46 652.19L297.61 653.11L297.78 654.03L297.96 654.93L298.16 655.83L298.38 656.72L298.61 657.60L298.85 658.47L299.11 659.33L299.39 660.18L299.68 661.02L299.98 661.85L300.30 662.66L300.63 663.46L300.98 664.24L301.34 665.01L301.71 665.77L302.10 666.51L302.50 667.23L302.91 667.94L303.33 668.63L303.77 669.30L304.21 669.95L304.67 670.59L305.14 671.20L305.62 671.80L306.11 672.37L306.61 672.93L307.12 673.46L307.64 673.98L308.17 674.47L308.70 674.94L309.24 675.38L309.80 675.81L310.35 676.21L310.92 676.59L311.49 676.94L312.07 677.27L312.65 677.58L313.24 677.86L313.83 678.12L314.43 678.35L315.03 678.56L315.63 678.75L316.24 678.91L316.85 679.04L317.46 679.15L318.07 679.23L318.69 679.29L319.30 679.32L319.77 679.33L321.60 679.33L323.44 679.33L325.28 679.33L327.11 679.33L328.95 679.33L330.78 679.33L332.62 679.33L334.46 679.33L336.29 679.33L338.13 679.33L339.97 679.33L341.80 679.33L343.64 679.33L345.48 679.33L347.31 679.33L349.15 679.33L350.99 679.33L352.82 679.33L354.66 679.33L356.49 679.33L358.33 679.33L360.17 679.33L362.00 679.33L363.84 679.33L365.68 679.33L367.51 679.33L369.35 679.33L371.19 679.33L373.02 679.33L374.86 679.33L376.70 679.33L378.53 679.33L380.37 679.33L382.20 679.33L384.04 679.33L385.88 679.33L387.71 679.33L389.55 679.33L391.39 679.33L393.22 679.33L395.06 679.33L396.90 679.33L398.73 679.33L400.57 679.33L402.41 679.33L404.24 679.33L406.08 679.33L407.91 679.33L409.75 679.33L411.59 679.33L413.42 679.33L415.26 679.33L417.10 679.33L418.93 679.33L420.77 679.33L422.61 679.33L424.44 679.33L426.28 679.33L428.11 679.33L429.95 679.33L431.79 679.33L433.62 679.33L435.46 679.33L437.30 679.33L439.13 679.33L440.97 679.33L442.81 679.33L444.64 679.33L446.48 679.33L448.32 679.33L450.15 679.33L451.99 679.33L453.82 679.33L455.66 679.33L457.50 679.33L459.33 679.33L461.17 679.33L463.01 679.33L464.84 679.33L466.68 679.33L468.52 679.33L470.35 679.33L472.19 679.33L474.03 679.33L475.86 679.33L477.70 679.33L479.53 679.33L481.37 679.33L483.21 679.33L485.04 679.33L486.88 679.33L488.72 679.33L490.55 679.33L492.39 679.33L494.23 679.33L496.06 679.33L497.90 679.33L499.74 679.33L501.57 679.33L503.41 679.33L505.24 679.33L507.08 679.33L508.92 679.33L510.75 679.33L512.59 679.33L514.43 679.33L516.26 679.33L518.10 679.33L519.94 679.33L521.77 679.33L523.61 679.33L525.45 679.33L527.28 679.33L529.12 679.33L530.95 679.33L532.79 679.33L534.63 679.33L536.46 679.33L538.30 679.33L540.14 679.33L541.97 679.33L543.81 679.33L545.65 679.33L547.48 679.33L549.32 679.33L551.16 679.33L552.99 679.33L554.83 679.33L556.66 679.33L558.50 679.33L560.34 679.33L562.17 679.33L564.01 679.33L565.85 679.33L567.68 679.33L569.52 679.33L571.36 679.33L573.19 679.33L575.03 679.33L576.86 679.33L578.70 679.33L580.54 679.33L582.37 679.33L584.21 679.33L586.05 679.33L587.88 679.33L589.72 679.33L591.56 679.33L593.39 679.33L595.23 679.33L597.07 679.33L598.90 679.33L600.74 679.33L602.57 679.33L604.41 679.33L606.25 679.33L608.08 679.33L609.92 679.33L611.76 679.33L613.59 679.33L615.43 679.33L617.27 679.33L619.10 679.33L620.94 679.33L622.78 679.33L624.61 679.33L626.45 679.33L628.28 679.33L630.12 679.33L631.96 679.33L633.79 679.33L635.63 679.33L637.47 679.33L639.30 679.33L641.14 679.33L642.98 679.33L644.81 679.33L646.65 679.33L648.49 679.33L650.32 679.33L652.16 679.33L653.99 679.33L655.83 679.33L657.67 679.33L659.50 679.33L661.34 679.33L663.18 679.33L665.01 679.33L666.85 679.33L668.69 679.33L670.52 679.33L672.36 679.33L674.20 679.33L676.03 679.33L677.87 679.33L679.70 679.33L681.54 679.33L683.38 679.33L685.21 679.33L687.05 679.33L688.89 679.33L690.72 679.33L692.56 679.33L694.40 679.33L696.23 679.33L698.07 679.33L699.91 679.33L701.74 679.33L703.58 679.33L705.41 679.33L707.25 679.33L709.09 679.33L710.92 679.33L712.76 679.33L714.60 679.33L716.43 679.33L718.27 679.33L720.11 679.33L721.94 679.33L723.78 679.33L725.61 679.33L727.45 679.33L729.29 679.33L731.12 679.33L732.96 679.33L734.80 679.33L736.63 679.33L738.47 679.33L740.31 679.33L742.14 679.33L743.98 679.33L745.82 679.33L747.65 679.33L749.49 679.33L751.32 679.33L753.16 679.33L755.00 679.33L756.83 679.33L758.67 679.33L760.51 679.33L762.34 679.33L764.18 679.33L766.02 679.33L767.85 679.33L769.69 679.33L771.53 679.33L773.36 679.33L775.20 679.33L777.03 679.33L778.87 679.33L780.71 679.33L782.54 679.33L784.38 679.33L786.22 679.33L788.05 679.33L789.89 679.33L791.73 679.33L793.56 679.33L795.40 679.33L797.24 679.33L799.07 679.33L800.91 679.33L802.74 679.33L804.58 679.33L806.42 679.33L808.25 679.33L810.09 679.33L811.93 679.33L813.76 679.33L815.60 679.33L817.44 679.33L819.27 679.33L821.11 679.33L822.95 679.33L824.78 679.33L826.62 679.33L828.45 679.33L830.29 679.33L832.13 679.33L833.96 679.33L835.80 679.33L837.64 679.33L839.47 679.33L841.31 679.33L843.15 679.33L844.98 679.33L846.82 679.33L848.66 679.33L850.49 679.33L852.33 679.33L854.16 679.33L854.62 679.33" fill="none" stroke="#142ef5" stroke-width="5.556" stroke-linejoin="round" stroke-linecap="square"/>
<path d="M854.62 820.80L856.46 820.80L858.31 820.80L860.15 820.80L861.99 820.80L863.83 820.80L865.67 820.80L867.51 820.80L869.35 820.80L871.19 820.80L873.03 820.80L874.87 820.80L876.71 820.80L878.56 820.80L880.40 820.80L882.24 820.80L884.08 820.80L885.92 820.80L887.76 820.80L889.60 820.80L891.44 820.80L893.28 820.80L895.12 820.80L896.97 820.80L898.81 820.80L900.65 820.80L902.49 820.80L904.33 820.80L906.17 820.80L908.01 820.80L909.85 820.80L911.69 820.80L913.53 820.80L915.37 820.80L917.22 820.80L919.06 820.80L920.90 820.80L922.74 820.80L924.58 820.80L926.42 820.80L928.26 820.80L930.10 820.80L931.94 820.80L933.78 820.80L935.62 820.80L937.47 820.80L939.31 820.80L941.15 820.80L942.99 820.80L944.83 820.80L946.67 820.80L948.51 820.80L950.35 820.80L952.19 820.80L954.03 820.80L955.88 820.80L957.72 820.80L959.56 820.80L961.40 820.80L963.24 820.80L965.08 820.80L966.92 820.80L968.76 820.80L970.60 820.80L972.44 820.80L974.28 820.80L976.13 820.80L977.97 820.80L979.81 820.80L981.65 820.80L983.49 820.80L985.33 820.80L987.17 820.80L989.01 820.80L990.85 820.80L992.23 820.80L995.31 820.74L998.39 820.55L1001.46 820.23L1004.53 819.78L1007.58 819.21L1010.63 818.51L1013.66 817.69L1016.68 816.74L1019.68 815.66L1022.66 814.46L1025.61 813.14L1028.55 811.70L1031.46 810.14L1034.33 808.45L1037.18 806.65L1040.00 804.73L1042.78 802.69L1045.53 800.54L1048.23 798.28L1050.90 795.91L1053.52 793.42L1056.10 790.83L1058.64 788.13L1061.12 785.33L1063.56 782.43L1065.95 779.43L1068.28 776.33L1070.55 773.13L1072.78 769.84L1074.94 766.46L1077.04 762.99L1079.08 759.44L1081.06 755.80L1082.98 752.08L1084.83 748.29L1086.61 744.42L1088.32 740.47L1089.97 736.46L1091.55 732.38L1093.05 728.24L1094.48 724.03L1095.84 719.77L1097.12 715.45L1098.33 711.08L1099.46 706.67L1100.51 702.21L1101.49 697.70L1102.38 693.16L1103.20 688.58L1103.94 683.97L1104.59 679.33L1105.17 674.67L1105.66 669.98L1106.07 665.27L1106.40 660.55L1106.65 655.82L1106.82 651.08L1106.90 646.33L1106.91 643.25L1106.91 640.41L1106.91 637.57L1106.91 634.73L1106.91 631.88L1106.91 629.04L1106.91 626.20L1106.91 623.36L1106.91 620.52L1106.91 617.68L1106.91 614.84L1106.91 612.00L1106.91 609.16L1106.91 606.32L1106.91 603.48L1106.91 600.64L1106.91 597.79L1106.91 594.95L1106.91 592.11L1106.91 589.27L1106.91 586.43L1106.91 583.59L1106.91 580.75L1106.91 577.91L1106.91 575.07L1106.91 572.23L1106.91 569.39L1106.91 566.55L1106.91 563.70L1106.91 560.86L1106.91 558.02L1106.91 555.18L1106.91 552.34L1106.91 549.50L1106.91 546.66L1106.91 543.82L1106.91 540.98L1106.91 538.14L1106.91 535.30L1106.91 532.46L1106.91 529.61L1106.91 526.77L1106.91 523.93L1106.91 521.09L1106.91 518.25L1106.91 515.41L1106.91 512.57L1106.91 509.73L1106.91 506.89L1106.91 504.05L1106.91 501.21L1106.91 498.36L1106.91 495.52L1106.91 492.68L1106.91 489.84L1106.91 487.00L1106.91 484.16L1106.91 481.32L1106.91 478.48L1106.91 475.64L1106.91 472.80L1106.91 469.96L1106.91 467.12L1106.90 464.38L1106.87 460.74L1106.81 457.10L1106.72 453.46L1106.60 449.82L1106.46 446.18L1106.29 442.55L1106.10 438.92L1105.87 435.29L1105.63 431.67L1105.35 428.05L1105.05 424.44L1104.72 420.83L1104.36 417.23L1103.97 413.64L1103.56 410.05L1103.13 406.47L1102.66 402.90L1102.17 399.33L1101.66 395.78L1101.12 392.23L1100.55 388.70L1099.95 385.17L1099.33 381.65L1098.68 378.15L1098.01 374.66L1097.31 371.18L1096.59 367.71L1095.84 364.26L1095.06 360.82L1094.26 357.39L1093.43 353.98L1092.58 350.58L1091.70 347.20L1090.80 343.83L1089.87 340.48L1088.92 337.15L1087.94 333.83L1086.94 330.53L1085.91 327.25L1084.86 323.98L1083.79 320.74L1082.69 317.51L1081.57 314.31L1080.42 311.12L1079.25 307.96L1078.06 304.81L1076.85 301.69L1075.61 298.59L1074.34 295.51L1073.06 292.45L1071.75 289.42L1070.42 286.41L1069.07 283.42L1067.70 280.46L1066.30 277.52L1064.88 274.60L1063.44 271.72L1061.98 268.85L1060.50 266.02L1059.00 263.20L1057.47 260.42L1055.93 257.66L1054.36 254.93L1052.78 252.23L1051.17 249.56L1049.55 246.91L1047.91 244.30L1046.24 241.71L1044.56 239.15L1042.86 236.63L1041.14 234.13L1039.40 231.66L1037.64 229.23L1035.87 226.82L1034.08 224.45L1032.27 222.10L1030.44 219.80L1028.60 217.52L1026.74 215.27L1024.86 213.06L1022.97 210.88L1021.06 208.74L1019.13 206.63L1017.19 204.55L1015.23 202.51L1013.26 200.50L1011.28 198.53L1009.28 196.59L1007.26 194.69L1005.23 192.82L1003.19 190.99L1001.13 189.20L999.06 187.44L996.98 185.72L994.89 184.03L992.78 182.39L990.66 180.78L988.53 179.20L986.39 177.67L984.23 176.17L982.07 174.71L979.89 173.29L977.71 171.91L975.51 170.57L973.31 169.26L971.09 168.00L968.87 166.77L966.63 165.58L964.39 164.44L962.14 163.33L959.88 162.26L957.62 161.23L955.34 160.24L953.06 159.30L950.77 158.39L948.48 157.52L946.18 156.69L943.87 155.91L941.56 155.16L939.24 154.46L936.92 153.80L934.59 153.17L932.26 152.59L929.92 152.05L927.58 151.55L925.24 151.10L922.89 150.68L920.54 150.31L918.19 149.97L915.83 149.68L913.48 149.43L911.12 149.22L908.76 149.06L906.40 148.93L904.04 148.85L901.67 148.81L899.31 148.81L896.95 148.85L894.59 148.93L892.23 149.06L889.87 149.22L887.51 149.43L885.15 149.68L882.80 149.97L880.44 150.31L878.10 150.68L875.75 151.10L873.40 151.55L871.06 152.05L868.73 152.59L866.40 153.17L864.07 153.80L861.75 154.46L859.43 155.16L857.12 155.91L854.81 156.69L852.51 157.52L850.21 158.39L847.93 159.30L845.64 160.24L843.37 161.23L841.10 162.26L838.85 163.33L836.60 164.44L834.35 165.58L832.12 166.77L829.90 168.00L827.68 169.26L825.47 170.57L823.28 171.91L821.09 173.29L818.92 174.71L816.75 176.17L814.60 177.67L812.46 179.20L810.33 180.78L808.21 182.39L806.10 184.03L804.00 185.72L801.92 187.44L799.85 189.20L797.80 190.99L795.76 192.82L793.73 194.69L791.71 196.59L789.71 198.53L787.73 200.50L785.75 202.51L783.80 204.55L781.86 206.63L779.93 208.74L778.02 210.88L776.13 213.06L774.25 215.27L772.39 217.52L770.55 219.80L768.72 222.10L766.91 224.45L765.12 226.82L763.34 229.23L761.59 231.66L759.85 234.13L758.13 236.63L756.43 239.15L754.74 241.71L753.08 244.30L751.44 246.91L749.81 249.56L748.21 252.23L746.62 254.93L745.06 257.66L743.51 260.42L741.99 263.20L740.49 266.02L739.01 268.85L737.55 271.72L736.11 274.60L734.69 277.52L733.29 280.46L731.92 283.42L730.57 286.41L729.24 289.42L727.93 292.45L726.64 295.51L725.38 298.59L724.14 301.69L722.93 304.81L721.73 307.96L721.04 309.80L720.12 312.27L719.20 314.73L718.27 317.19L717.35 319.66L716.43 322.12L715.51 324.58L714.59 327.04L713.66 329.51L712.74 331.97L711.82 334.43L710.90 336.89L709.98 339.36L709.05 341.82L708.13 344.28L707.21 346.75L706.29 349.21L705.37 351.67L704.44 354.13L703.52 356.60L702.60 359.06L701.68 361.52L700.76 363.98L699.83 366.45L698.91 368.91L697.99 371.37L697.07 373.84L696.15 376.30L695.22 378.76L694.30 381.22L693.38 383.69L692.46 386.15L691.54 388.61L690.61 391.07L689.69 393.54L688.77 396.00L687.85 398.46L686.93 400.93L686.00 403.39L685.08 405.85L684.16 408.31L683.24 410.78L682.32 413.24L681.39 415.70L680.47 418.16L679.55 420.63L678.63 423.09L677.71 425.55L676.78 428.01L675.86 430.48L675.63 431.09L675.30 431.89L674.97 432.68L674.61 433.46L674.25 434.22L673.87 434.96L673.48 435.69L673.07 436.41L672.66 437.10L672.23 437.78L671.79 438.44L671.34 439.09L670.88 439.71L670.41 440.31L669.92 440.90L669.43 441.46L668.93 442.01L668.42 442.53L667.90 443.03L667.37 443.51L666.83 443.97L666.29 444.41L665.73 444.82L665.17 445.21L664.61 445.58L664.04 445.92L663.46 446.24L662.88 446.54L662.29 446.81L661.69 447.05L661.10 447.28L660.50 447.48L659.89 447.65L659.29 447.80L658.68 447.92L658.07 448.02L657.46 448.09L656.84 448.14L656.23 448.16L655.62 448.16L655.00 448.13L654.39 448.07L653.78 448.00L653.17 447.89L652.56 447.76L651.95 447.61L651.35 447.43L650.75 447.22L650.16 446.99L649.57 446.74L648.98 446.46L648.40 446.16L647.82 445.84L647.25 445.49L646.69 445.11L646.13 444.72L645.58 444.30L645.03 443.86L644.50 443.39L643.97 442.91L643.45 442.40L642.94 441.87L642.44 441.32L641.95 440.75L641.47 440.16L641.00 439.55L640.55 438.93L640.10 438.28L639.66 437.61L639.24 436.93L638.82 436.23L638.42 435.51L638.03 434.78L637.66 434.03L637.30 433.27L636.95 432.49L636.61 431.69L636.29 430.89L635.91 429.86L634.99 427.40L634.06 424.94L633.14 422.47L632.22 420.01L631.30 417.55L630.38 415.09L629.45 412.62L628.53 410.16L627.61 407.70L626.69 405.23L625.77 402.77L624.84 400.31L623.92 397.85L623.00 395.38L622.08 392.92L621.15 390.46L620.23 388.00L619.31 385.53L618.39 383.07L617.47 380.61L616.54 378.15L615.62 375.68L614.70 373.22L613.78 370.76L612.86 368.29L611.93 365.83L611.01 363.37L610.09 360.91L609.17 358.44L608.25 355.98L607.32 353.52L606.40 351.06L605.48 348.59L604.56 346.13L603.64 343.67L602.71 341.20L601.79 338.74L600.87 336.28L599.95 333.82L599.03 331.35L598.10 328.89L597.18 326.43L596.26 323.97L595.34 321.50L594.42 319.04L593.49 316.58L592.57 314.11L591.65 311.65L590.73 309.19L589.97 307.17L588.77 304.03L587.55 300.91L586.31 297.82L585.04 294.74L583.75 291.69L582.43 288.66L581.10 285.66L579.74 282.68L578.36 279.72L576.96 276.79L575.54 273.88L574.09 271.00L572.63 268.14L571.14 265.31L569.63 262.51L568.10 259.73L566.55 256.98L564.98 254.26L563.39 251.56L561.78 248.90L560.15 246.26L558.50 243.65L556.84 241.07L555.15 238.52L553.44 236.00L551.72 233.51L549.98 231.05L548.22 228.62L546.44 226.22L544.64 223.86L542.83 221.52L540.99 219.22L539.15 216.95L537.28 214.72L535.40 212.51L533.50 210.34L531.59 208.21L529.66 206.11L527.71 204.04L525.75 202.00L523.78 200.00L521.79 198.04L519.79 196.11L517.77 194.22L515.74 192.36L513.69 190.54L511.63 188.75L509.56 187.01L507.47 185.29L505.37 183.62L503.26 181.98L501.14 180.38L499.01 178.82L496.86 177.29L494.71 175.80L492.54 174.35L490.36 172.94L488.17 171.57L485.98 170.24L483.77 168.94L481.55 167.69L479.32 166.47L477.09 165.29L474.84 164.16L472.59 163.06L470.33 162.00L468.06 160.98L465.79 160.00L463.50 159.06L461.21 158.17L458.92 157.31L456.62 156.49L454.31 155.72L451.99 154.98L449.67 154.29L447.35 153.64L445.02 153.02L442.69 152.45L440.35 151.92L438.01 151.43L435.67 150.99L433.32 150.58L430.97 150.22L428.61 149.90L426.26 149.61L423.90 149.37L421.54 149.18L419.18 149.02L416.82 148.91L414.46 148.83L412.10 148.80L409.73 148.81L407.37 148.86L405.01 148.96L402.65 149.09L400.29 149.27L397.93 149.49L395.58 149.75L393.22 150.05L390.87 150.39L388.52 150.78L386.17 151.21L383.83 151.67L381.49 152.18L379.16 152.73L376.83 153.32L374.50 153.96L372.18 154.63L369.86 155.35L367.55 156.10L365.25 156.90L362.95 157.73L360.65 158.61L358.37 159.53L356.09 160.49L353.82 161.48L351.55 162.52L349.30 163.60L347.05 164.72L344.81 165.88L342.58 167.07L340.35 168.31L338.14 169.58L335.94 170.90L333.74 172.25L331.56 173.64L329.39 175.07L327.23 176.54L325.08 178.05L322.94 179.59L320.81 181.18L318.69 182.79L316.59 184.45L314.50 186.15L312.42 187.88L310.35 189.64L308.30 191.45L306.26 193.29L304.23 195.16L302.22 197.07L300.23 199.02L298.24 201.00L296.28 203.02L294.32 205.07L292.39 207.15L290.47 209.27L288.56 211.43L286.67 213.61L284.80 215.83L282.94 218.08L281.10 220.37L279.28 222.69L277.47 225.04L275.68 227.42L273.91 229.83L272.16 232.28L270.43 234.75L268.71 237.25L267.02 239.79L265.34 242.35L263.68 244.95L262.04 247.57L260.42 250.22L258.82 252.91L257.24 255.61L255.68 258.35L254.14 261.11L252.63 263.91L251.13 266.72L249.65 269.57L248.20 272.44L246.76 275.33L245.35 278.25L243.96 281.20L242.59 284.16L241.24 287.16L239.92 290.17L238.62 293.21L237.34 296.28L236.08 299.36L234.85 302.47L233.64 305.60L232.45 308.75L231.29 311.92L230.15 315.11L229.03 318.32L227.94 321.55L226.87 324.80L225.83 328.07L224.81 331.35L223.81 334.66L222.84 337.98L221.89 341.32L220.97 344.67L220.08 348.04L219.21 351.43L218.36 354.83L217.54 358.25L216.74 361.68L215.97 365.12L215.23 368.58L214.51 372.05L213.82 375.53L213.15 379.03L212.51 382.53L211.90 386.05L211.31 389.58L210.75 393.12L210.21 396.66L209.70 400.22L209.22 403.79L208.76 407.36L208.33 410.94L207.93 414.53L207.55 418.13L207.20 421.73L206.88 425.34L206.58 428.96L206.31 432.57L206.07 436.20L205.85 439.83L205.66 443.46L205.50 447.09L205.36 450.73L205.26 454.37L205.18 458.01L205.12 461.65L205.09 465.29L205.09 467.83L205.09 470.67L205.09 473.51L205.09 476.35L205.09 479.19L205.09 482.03L205.09 484.87L205.09 487.71L205.09 490.55L205.09 493.39L205.09 496.23L205.09 499.08L205.09 501.92L205.09 504.76L205.09 507.60L205.09 510.44L205.09 513.28L205.09 516.12L205.09 518.96L205.09 521.80L205.09 524.64L205.09 527.48L205.09 530.32L205.09 533.17L205.09 536.01L205.09 538.85L205.09 541.69L205.09 544.53L205.09 547.37L205.09 550.21L205.09 553.05L205.09 555.89L205.09 558.73L205.09 561.57L205.09 564.41L205.09 567.26L205.09 570.10L205.09 572.94L205.09 575.78L205.09 578.62L205.09 581.46L205.09 584.30L205.09 587.14L205.09 589.98L205.09 592.82L205.09 595.66L205.09 598.50L205.09 601.35L205.09 604.19L205.09 607.03L205.09 609.87L205.09 612.71L205.09 615.55L205.09 618.39L205.09 621.23L205.09 624.07L205.09 626.91L205.09 629.75L205.09 632.59L205.09 635.44L205.09 638.28L205.09 641.12L205.09 643.96L205.11 647.52L205.22 652.26L205.40 657.00L205.67 661.73L206.02 666.45L206.45 671.15L206.97 675.83L207.56 680.49L208.24 685.13L209.00 689.73L209.84 694.30L210.75 698.83L211.75 703.32L212.82 707.78L213.97 712.18L215.19 716.54L216.50 720.84L217.87 725.09L219.32 729.28L220.84 733.41L222.43 737.47L224.10 741.46L225.83 745.39L227.63 749.24L229.50 753.02L231.43 756.72L233.42 760.33L235.48 763.87L237.60 767.31L239.77 770.67L242.01 773.94L244.30 777.11L246.65 780.19L249.04 783.17L251.49 786.04L253.99 788.82L256.54 791.49L259.13 794.05L261.76 796.51L264.44 798.86L267.16 801.09L269.91 803.21L272.70 805.22L275.53 807.11L278.38 808.88L281.27 810.54L284.18 812.07L287.12 813.48L290.09 814.77L293.07 815.94L296.07 816.98L299.10 817.90L302.13 818.70L305.18 819.36L308.24 819.90L311.31 820.32L314.38 820.60L317.46 820.76L319.77 820.80L321.60 820.80L323.44 820.80L325.28 820.80L327.11 820.80L328.95 820.80L330.78 820.80L332.62 820.80L334.46 820.80L336.29 820.80L338.13 820.80L339.97 820.80L341.80 820.80L343.64 820.80L345.48 820.80L347.31 820.80L349.15 820.80L350.99 820.80L352.82 820.80L354.66 820.80L356.49 820.80L358.33 820.80L360.17 820.80L362.00 820.80L363.84 820.80L365.68 820.80L367.51 820.80L369.35 820.80L371.19 820.80L373.02 820.80L374.86 820.80L376.70 820.80L378.53 820.80L380.37 820.80L382.20 820.80L384.04 820.80L385.88 820.80L387.71 820.80L389.55 820.80L391.39 820.80L393.22 820.80L395.06 820.80L396.90 820.80L398.73 820.80L400.57 820.80L402.41 820.80L404.24 820.80L406.08 820.80L407.91 820.80L409.75 820.80L411.59 820.80L413.42 820.80L415.26 820.80L417.10 820.80L418.93 820.80L420.77 820.80L422.61 820.80L424.44 820.80L426.28 820.80L428.11 820.80L429.95 820.80L431.79 820.80L433.62 820.80L435.46 820.80L437.30 820.80L439.13 820.80L440.97 820.80L442.81 820.80L444.64 820.80L446.48 820.80L448.32 820.80L450.15 820.80L451.99 820.80L453.82 820.80L455.66 820.80L457.50 820.80L459.33 820.80L461.17 820.80L463.01 820.80L464.84 820.80L466.68 820.80L468.52 820.80L470.35 820.80L472.19 820.80L474.03 820.80L475.86 820.80L477.70 820.80L479.53 820.80L481.37 820.80L483.21 820.80L485.04 820.80L486.88 820.80L488.72 820.80L490.55 820.80L492.39 820.80L494.23 820.80L496.06 820.80L497.90 820.80L499.74 820.80L501.57 820.80L503.41 820.80L505.24 820.80L507.08 820.80L508.92 820.80L510.75 820.80L512.59 820.80L514.43 820.80L516.26 820.80L518.10 820.80L519.94 820.80L521.77 820.80L523.61 820.80L525.45 820.80L527.28 820.80L529.12 820.80L530.95 820.80L532.79 820.80L534.63 820.80L536.46 820.80L538.30 820.80L540.14 820.80L541.97 820.80L543.81 820.80L545.65 820.80L547.48 820.80L549.32 820.80L551.16 820.80L552.99 820.80L554.83 820.80L556.66 820.80L558.50 820.80L560.34 820.80L562.17 820.80L564.01 820.80L565.85 820.80L567.68 820.80L569.52 820.80L571.36 820.80L573.19 820.80L575.03 820.80L576.86 820.80L578.70 820.80L580.54 820.80L582.37 820.80L584.21 820.80L586.05 820.80L587.88 820.80L589.72 820.80L591.56 820.80L593.39 820.80L595.23 820.80L597.07 820.80L598.90 820.80L600.74 820.80L602.57 820.80L604.41 820.80L606.25 820.80L608.08 820.80L609.92 820.80L611.76 820.80L613.59 820.80L615.43 820.80L617.27 820.80L619.10 820.80L620.94 820.80L622.78 820.80L624.61 820.80L626.45 820.80L628.28 820.80L630.12 820.80L631.96 820.80L633.79 820.80L635.63 820.80L637.47 820.80L639.30 820.80L641.14 820.80L642.98 820.80L644.81 820.80L646.65 820.80L648.49 820.80L650.32 820.80L652.16 820.80L653.99 820.80L655.83 820.80L657.67 820.80L659.50 820.80L661.34 820.80L663.18 820.80L665.01 820.80L666.85 820.80L668.69 820.80L670.52 820.80L672.36 820.80L674.20 820.80L676.03 820.80L677.87 820.80L679.70 820.80L681.54 820.80L683.38 820.80L685.21 820.80L687.05 820.80L688.89 820.80L690.72 820.80L692.56 820.80L694.40 820.80L696.23 820.80L698.07 820.80L699.91 820.80L701.74 820.80L703.58 820.80L705.41 820.80L707.25 820.80L709.09 820.80L710.92 820.80L712.76 820.80L714.60 820.80L716.43 820.80L718.27 820.80L720.11 820.80L721.94 820.80L723.78 820.80L725.61 820.80L727.45 820.80L729.29 820.80L731.12 820.80L732.96 820.80L734.80 820.80L736.63 820.80L738.47 820.80L740.31 820.80L742.14 820.80L743.98 820.80L745.82 820.80L747.65 820.80L749.49 820.80L751.32 820.80L753.16 820.80L755.00 820.80L756.83 820.80L758.67 820.80L760.51 820.80L762.34 820.80L764.18 820.80L766.02 820.80L767.85 820.80L769.69 820.80L771.53 820.80L773.36 820.80L775.20 820.80L777.03 820.80L778.87 820.80L780.71 820.80L782.54 820.80L784.38 820.80L786.22 820.80L788.05 820.80L789.89 820.80L791.73 820.80L793.56 820.80L795.40 820.80L797.24 820.80L799.07 820.80L800.91 820.80L802.74 820.80L804.58 820.80L806.42 820.80L808.25 820.80L810.09 820.80L811.93 820.80L813.76 820.80L815.60 820.80L817.44 820.80L819.27 820.80L821.11 820.80L822.95 820.80L824.78 820.80L826.62 820.80L828.45 820.80L830.29 820.80L832.13 820.80L833.96 820.80L835.80 820.80L837.64 820.80L839.47 820.80L841.31 820.80L843.15 820.80L844.98 820.80L846.82 820.80L848.66 820.80L850.49 820.80L852.33 820.80L854.16 820.80L854.62 820.80" fill="none" stroke="#142ef5" stroke-width="5.556" stroke-linejoin="round" stroke-linecap="square"/>
<path d="M851.84 676.09H857.4V682.2H851.84ZM851.84 818H857.4V824.1H851.84Z" fill="#142ef5"/>
<path d="M854.62 750.06L860.62 750.09L866.62 750.41L872.62 750.91L878.62 750.58L884.62 750.71L890.62 751.33L896.62 751.60L902.62 751.18L908.62 751.44L914.62 751.67L920.62 751.32L926.62 751.50L932.62 751.48L938.62 751.42L944.62 751.48L950.62 751.71L956.62 751.90L962.62 752.07L968.62 752.06L974.62 751.60L980.62 751.30L986.62 751.11L992.63 751.09L998.79 750.93L1004.95 750.10L1011.19 748.94L1016.91 746.28L1022.16 742.83L1027.05 738.94L1031.61 734.72L1035.81 730.16L1039.61 725.29L1043.00 720.14L1046.17 714.89L1049.04 709.47L1051.69 703.95L1054.10 698.32L1056.21 692.58L1057.98 686.72L1059.23 680.74L1060.16 674.71L1061.07 668.70L1062.17 662.72L1063.33 656.71L1064.56 650.65L1066.10 644.53L1067.72 638.51L1069.49 632.51L1070.76 626.51L1071.73 620.51L1072.37 614.51L1072.81 608.51L1072.83 602.51L1072.50 596.51L1072.16 590.51L1071.78 584.51L1071.44 578.51L1071.17 572.51L1070.94 566.51L1070.76 560.51L1070.66 554.51L1070.55 548.51L1070.26 542.51L1069.68 536.51L1069.00 530.51L1068.32 524.51L1067.61 518.51L1066.92 512.51L1066.30 506.51L1066.07 500.51L1065.95 494.51L1065.64 488.51L1065.06 482.51L1064.51 476.51L1063.98 470.51L1063.53 464.49L1063.17 458.46L1062.78 452.43L1062.43 446.41L1062.21 440.38L1061.97 434.35L1061.51 428.33L1060.92 422.32L1060.20 416.32L1059.31 410.34L1058.27 404.39L1057.10 398.46L1055.74 392.58L1054.16 386.75L1052.64 380.91L1051.18 375.06L1049.63 369.23L1047.98 363.43L1046.23 357.67L1044.37 351.93L1042.41 346.22L1040.40 340.53L1038.36 334.84L1036.23 329.18L1033.94 323.58L1031.52 318.03L1028.97 312.53L1026.28 307.09L1023.41 301.74L1020.34 296.50L1017.11 291.35L1013.74 286.30L1010.21 281.34L1006.55 276.49L1002.74 271.74L998.78 267.12L994.65 262.65L990.38 258.31L985.99 254.09L981.50 249.98L976.93 245.93L972.24 242.01L967.44 238.19L962.41 234.66L957.11 231.53L951.62 228.75L945.96 226.32L940.21 224.13L934.36 222.24L928.44 220.61L922.48 219.11L916.50 217.50L910.40 216.36L904.21 215.77L897.99 215.67L891.79 216.13L885.64 217.04L879.57 218.25L873.55 219.67L867.62 221.39L861.82 223.49L856.32 226.29L850.96 229.26L845.47 231.94L840.04 234.74L834.91 238.06L830.04 241.74L825.33 245.61L820.74 249.60L816.29 253.73L811.99 258.00L807.83 262.42L803.83 266.96L799.93 271.59L796.16 276.31L792.53 281.15L789.04 286.08L785.65 291.08L782.31 296.12L779.11 301.26L776.14 306.52L773.33 311.87L770.66 317.29L768.13 322.77L765.76 328.33L763.50 333.92L761.29 339.54L759.12 345.15L756.94 350.74L754.78 356.34L752.67 361.95L750.61 367.59L748.57 373.23L746.54 378.88L744.64 384.57L742.83 390.30L740.89 395.98L738.82 401.61L736.73 407.24L734.62 412.86L732.50 418.47L730.38 424.08L728.27 429.70L726.16 435.32L724.06 440.93L721.98 446.56L719.96 452.21L718.46 456.46" fill="none" stroke="#4287be" stroke-width="4.167" stroke-linejoin="round" stroke-linecap="square"/>
</svg>
<path d="M160 115H1152V854H160Z" fill="none" stroke="#000" stroke-width="2.222" stroke-linejoin="miter"/>
<path d="M158 113.5H1154M158 116.5H1154M158 852.5H1154M158 855.5H1154" fill="none" stroke="#000" stroke-opacity="0.11" stroke-width="1" shape-rendering="crispEdges"/>
</svg>
<div class="botline"></div><div class="botblob"></div>
</body></html>
